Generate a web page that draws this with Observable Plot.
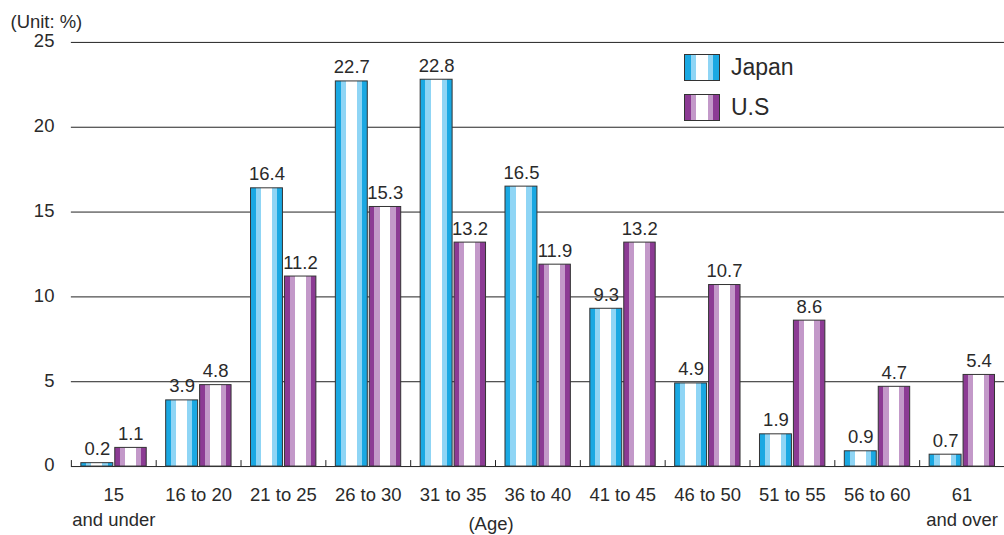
<!DOCTYPE html>
<html>
<head>
<meta charset="utf-8">
<script src="https://cdn.jsdelivr.net/npm/d3@7"></script>
<script src="https://cdn.jsdelivr.net/npm/@observablehq/plot@0.6"></script>
<style>
  html, body { margin: 0; padding: 0; background: #fff; overflow: hidden; }
  #wrap { position: relative; width: 1004px; height: 535px; overflow: hidden; font-family: "Liberation Sans", Arial, sans-serif; color: #2a2a2a; }
  #chart svg { display: block; }
  .legend { position: absolute; left: 684px; font-size: 23px; display: flex; align-items: center; }
  .legend .sw { width: 34px; height: 25px; border: 1px solid #333; margin-right: 11px; }
</style>
</head>
<body>
<div id="wrap">
  <div id="chart"></div>
  <div class="legend" style="top:54px"><div class="sw" id="swJapan"></div>Japan</div>
  <div class="legend" style="top:94px"><div class="sw" id="swUS"></div>U.S</div>
</div>
<script>
// Age groups and share of each (%)
const categories = ["15", "16 to 20", "21 to 25", "26 to 30", "31 to 35", "36 to 40",
                    "41 to 45", "46 to 50", "51 to 55", "56 to 60", "61"];
const tickLabels = ["15\nand under", "16 to 20", "21 to 25", "26 to 30", "31 to 35", "36 to 40",
                    "41 to 45", "46 to 50", "51 to 55", "56 to 60", "61\nand over"];
const japan = [0.2, 3.9, 16.4, 22.7, 22.8, 16.5, 9.3, 4.9, 1.9, 0.9, 0.7];
const us    = [1.1, 4.8, 11.2, 15.3, 13.2, 11.9, 13.2, 10.7, 8.6, 4.7, 5.4];
const yTicks = [0, 5, 10, 15, 20, 25];

const colors = {
  japan: {dark: "#1aa8e2", light: "#8fd5f5"},
  us:    {dark: "#8c3b94", light: "#c399c9"}
};

const jpData = categories.map((c, i) => ({cat: c, value: japan[i]}));
const usData = categories.map((c, i) => ({cat: c, value: us[i]}));

const FONT = 18.5;
const textStyle = {fontSize: FONT, fill: "#2a2a2a"};

const svg = Plot.plot({
  width: 1006,
  height: 535,
  marginLeft: 71,
  marginRight: 0,
  marginTop: 42,
  marginBottom: 68,
  style: {fontFamily: "Liberation Sans, Arial, sans-serif", fontSize: FONT + "px", color: "#2a2a2a", background: "#fff"},
  x: {type: "band", domain: categories, padding: 0, axis: null},
  y: {domain: [0, 25], ticks: yTicks},
  marks: [
    Plot.gridY([5, 10, 15, 20, 25], {stroke: "#222", strokeOpacity: 1, strokeWidth: 1}),
    Plot.axisY(yTicks, {tickSize: 0, tickPadding: 17, dy: -1, label: null, fontSize: FONT, fill: "#2a2a2a"}),
    Plot.ruleY([0], {stroke: "#222"}),
    // small ticks on the baseline separating the age groups
    Plot.ruleX(categories, {x: d => d, y1: 0, y2: 0, insetTop: -6, dx: -42.5, stroke: "#222"}),
    Plot.barY(jpData, {x: "cat", y: "value", insetLeft: 10, insetRight: 43,
      fill: "url(#grad-japan)", stroke: "#333", strokeWidth: 1}),
    Plot.barY(usData, {x: "cat", y: "value", insetLeft: 44, insetRight: 9.5,
      fill: "url(#grad-us)", stroke: "#333", strokeWidth: 1}),
    Plot.text(jpData, {x: "cat", y: "value", text: d => d.value.toFixed(1), dx: -16.5, dy: -8,
      lineAnchor: "bottom", ...textStyle}),
    Plot.text(usData, {x: "cat", y: "value", text: d => d.value.toFixed(1), dx: 17, dy: -8,
      lineAnchor: "bottom", ...textStyle}),
    // age group labels
    Plot.text(categories, {x: d => d, text: (d, i) => tickLabels[i], frameAnchor: "bottom",
      dy: 17, lineAnchor: "top", lineHeight: 1.36, ...textStyle}),
    Plot.text(["(Age)"], {frameAnchor: "bottom", dx: -47, dy: 50, lineAnchor: "top", ...textStyle}),
    Plot.text(["(Unit: %)"], {frameAnchor: "top-left", dx: -61, dy: -28, textAnchor: "start",
      lineAnchor: "top", ...textStyle})
  ]
});

// striped fills for the bars
function addGradient(id, c) {
  const ns = "http://www.w3.org/2000/svg";
  let defs = svg.querySelector("defs");
  if (!defs) { defs = document.createElementNS(ns, "defs"); svg.insertBefore(defs, svg.firstChild); }
  const g = document.createElementNS(ns, "linearGradient");
  g.setAttribute("id", id);
  g.setAttribute("x1", "0"); g.setAttribute("x2", "1"); g.setAttribute("y1", "0"); g.setAttribute("y2", "0");
  const stops = [[0, c.dark], [0.165, c.dark], [0.165, c.light], [0.33, c.light], [0.33, "#fff"],
                 [0.67, "#fff"], [0.67, c.light], [0.835, c.light], [0.835, c.dark], [1, c.dark]];
  for (const [o, col] of stops) {
    const s = document.createElementNS(ns, "stop");
    s.setAttribute("offset", o); s.setAttribute("stop-color", col);
    g.appendChild(s);
  }
  defs.appendChild(g);
}
addGradient("grad-japan", colors.japan);
addGradient("grad-us", colors.us);
document.getElementById("chart").appendChild(svg);

const css = c => `linear-gradient(to right, ${c.dark} 0 16.5%, ${c.light} 16.5% 33%, #fff 33% 67%, ${c.light} 67% 83.5%, ${c.dark} 83.5% 100%)`;
document.getElementById("swJapan").style.background = css(colors.japan);
document.getElementById("swUS").style.background = css(colors.us);
</script>
</body>
</html>
